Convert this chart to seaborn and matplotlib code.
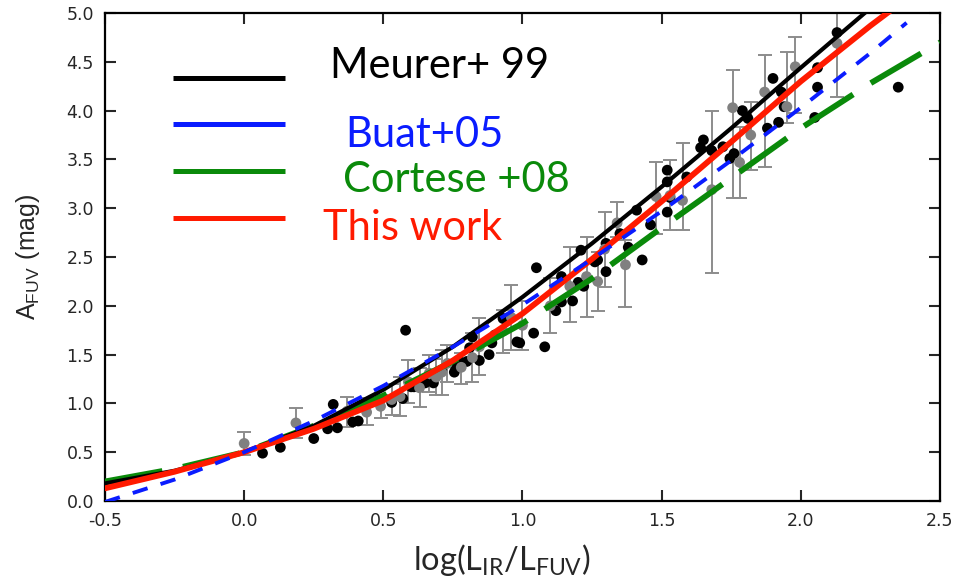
import matplotlib
matplotlib.use("Agg")
import matplotlib.pyplot as plt
import seaborn as sns
import pandas as pd

# curves
x_grid = [-0.5, -0.25, 0.0, 0.25, 0.5, 0.75, 1.0, 1.25, 1.5, 1.75, 2.0, 2.25]
meurer = [0.18, 0.31, 0.50, 0.77, 1.14, 1.58, 2.09, 2.64, 3.22, 3.82, 4.44, 5.05]
buat_x = [-0.5, -0.25, 0.0, 0.25, 0.5, 0.75, 1.0, 1.25, 1.5, 1.75, 2.0, 2.25, 2.38]
buat = [-0.01, 0.22, 0.50, 0.82, 1.18, 1.58, 2.01, 2.48, 2.97, 3.49, 4.03, 4.59, 4.90]
cortese_x = [-0.5, -0.25, 0.0, 0.25, 0.5, 0.75, 1.0, 1.25, 1.5, 1.75, 2.0, 2.25, 2.5]
cortese = [0.20, 0.33, 0.50, 0.77, 1.08, 1.43, 1.82, 2.28, 2.80, 3.31, 3.82, 4.28, 4.70]
this_x = [-0.5, -0.25, 0.0, 0.25, 0.5, 0.75, 1.0, 1.25, 1.5, 1.75, 2.0, 2.25, 2.32]
this_work = [0.13, 0.30, 0.50, 0.74, 1.03, 1.44, 1.92, 2.48, 3.07, 3.68, 4.30, 4.87, 5.02]

# galaxies without error bars (black)
blk_x = [0.066, 0.13, 0.25, 0.30, 0.335, 0.32, 0.39, 0.41, 0.53, 0.57, 0.58, 0.60, 0.61,
         0.65, 0.68, 0.71, 0.755, 0.76, 0.77, 0.80, 0.81, 0.82, 0.845, 0.88, 0.89, 0.90,
         0.93, 0.98, 0.99, 1.04, 1.05, 1.08, 1.12, 1.14, 1.14, 1.18, 1.20, 1.21, 1.22,
         1.26, 1.27, 1.30, 1.30, 1.35, 1.38, 1.41, 1.43, 1.46, 1.52, 1.52, 1.52, 1.53,
         1.59, 1.64, 1.65, 1.68, 1.72, 1.745, 1.76, 1.79, 1.81, 1.88, 1.90, 1.92, 1.93,
         1.94, 2.05, 2.06, 2.06, 2.13, 2.35]
blk_y = [0.49, 0.55, 0.64, 0.74, 0.75, 0.99, 0.81, 0.82, 1.01, 1.05, 1.75, 1.17, 1.17,
         1.21, 1.21, 1.34, 1.32, 1.37, 1.44, 1.43, 1.57, 1.68, 1.44, 1.50, 1.62, 1.70,
         1.87, 1.63, 1.62, 1.72, 2.39, 1.58, 1.95, 2.30, 2.04, 2.05, 2.24, 2.57, 2.20,
         2.45, 2.47, 2.35, 2.64, 2.74, 2.60, 2.98, 2.47, 2.83, 3.27, 2.96, 3.39, 3.11,
         3.32, 3.62, 3.70, 3.59, 3.63, 3.51, 3.56, 4.00, 3.92, 3.82, 4.33, 3.88, 4.19,
         4.04, 3.93, 4.24, 4.44, 4.80, 4.24]

# galaxies with error bars (grey): value, lower end, upper end
gry_x = [0.00, 0.186, 0.37, 0.44, 0.49, 0.53, 0.56, 0.59, 0.63, 0.665, 0.69, 0.71, 0.73,
         0.78, 0.82, 0.845, 0.93, 0.96, 1.00, 1.10, 1.17, 1.23, 1.27, 1.295, 1.34, 1.37,
         1.48, 1.53, 1.575, 1.68, 1.755, 1.78, 1.82, 1.87, 1.95, 1.98, 2.13]
gry_y = [0.59, 0.80, 0.92, 0.91, 0.97, 1.04, 1.07, 1.22, 1.16, 1.31, 1.27, 1.32, 1.41,
         1.37, 1.47, 1.58, 1.74, 1.88, 1.80, 2.00, 2.20, 2.30, 2.25, 2.58, 2.85, 2.42,
         3.12, 3.13, 3.08, 3.19, 4.03, 3.47, 3.75, 4.19, 4.04, 4.45, 4.69]
gry_lo = [0.47, 0.65, 0.76, 0.78, 0.85, 0.88, 0.87, 1.00, 0.96, 1.12, 1.09, 1.09, 1.22,
          1.20, 1.22, 1.29, 1.52, 1.55, 1.55, 1.72, 1.83, 1.89, 1.95, 2.19, 2.70, 1.99,
          2.74, 2.78, 2.78, 2.34, 3.10, 3.10, 3.39, 3.42, 3.87, 3.98, 4.14]
gry_hi = [0.71, 0.95, 1.07, 1.06, 1.09, 1.20, 1.27, 1.44, 1.36, 1.50, 1.45, 1.55, 1.60,
          1.52, 1.72, 1.88, 1.96, 2.21, 2.05, 2.29, 2.60, 2.70, 2.55, 2.96, 3.06, 2.67,
          3.47, 3.49, 3.67, 4.00, 4.42, 3.83, 4.09, 4.57, 4.60, 4.75, 5.30]

labels = ["Meurer+ 99", "Buat+05", "Cortese +08", "This work"]
colors = ["black", "#0a1cff", "#0a8a0a", "#ff1a00"]

sns.set_style("ticks")
plt.rcParams["font.family"] = ["Liberation Sans", "DejaVu Sans"]

fig = plt.figure(figsize=(9.58, 5.79), dpi=100)
ax = fig.add_axes([0.1096, 0.1347, 0.8716, 0.8428])

ax.errorbar(gry_x, gry_y,
            yerr=[[y - l for y, l in zip(gry_y, gry_lo)], [h - y for y, h in zip(gry_y, gry_hi)]],
            fmt="none", ecolor="#8c8c8c", elinewidth=1.4, capsize=5, capthick=1.4, zorder=1)
sns.scatterplot(x=blk_x, y=blk_y, color="black", s=60, edgecolor="none", ax=ax, zorder=2)
sns.scatterplot(x=gry_x, y=gry_y, color="#808080", s=60, edgecolor="none", ax=ax, zorder=2)

sns.lineplot(x=cortese_x, y=cortese, color=colors[2], lw=4.2, ax=ax, zorder=3).lines[-1].set_dashes([10, 3.6])
sns.lineplot(x=x_grid, y=meurer, color=colors[0], lw=3.0, ax=ax, zorder=4)
sns.lineplot(x=this_x, y=this_work, color=colors[3], lw=4.2, ax=ax, zorder=5)
sns.lineplot(x=buat_x, y=buat, color=colors[1], lw=2.8, ax=ax, zorder=6).lines[-1].set_dashes([4, 3.5])

ax.set_xlim(-0.5, 2.5)
ax.set_ylim(0, 5)
ax.set_xticks([-0.5, 0.0, 0.5, 1.0, 1.5, 2.0, 2.5])
ax.set_yticks([0.0, 0.5, 1.0, 1.5, 2.0, 2.5, 3.0, 3.5, 4.0, 4.5, 5.0])
ax.set_xticklabels(["-0.5", "0.0", "0.5", "1.0", "1.5", "2.0", "2.5"])
ax.set_yticklabels(["0.0", "0.5", "1.0", "1.5", "2.0", "2.5", "3.0", "3.5", "4.0", "4.5", "5.0"])
ax.tick_params(direction="in", length=8, width=1.5, labelsize=12.5, top=True, right=True,
               labeltop=False, labelright=False, pad=8)
for lab in ax.get_xticklabels() + ax.get_yticklabels():
    lab.set_family("DejaVu Sans")
for sp in ax.spines.values():
    sp.set_linewidth(1.6)
    sp.set_color("black")

ax.set_xlabel(r"$\mathregular{log(L_{IR}/L_{FUV})}$", fontsize=23.5, family="Lato")
ax.xaxis.set_label_coords(0.475, -0.085)
ax.xaxis.label.set_va("top")
ax.set_ylabel(r"$\mathregular{A_{FUV}\ (mag)}$", fontsize=18, family="Liberation Sans")
ax.yaxis.set_label_coords(-0.075, 0.5)

# hand-drawn legend
leg_y = [0.867, 0.7725, 0.676, 0.58]
txt_x = [0.2695, 0.2874, 0.285, 0.261]
txt_y = [0.8668, 0.7254, 0.633, 0.535]
for lab, c, ly, tx, ty in zip(labels, colors, leg_y, txt_x, txt_y):
    ax.plot([0.0814, 0.2156], [ly, ly], color=c, lw=3.6, transform=ax.transAxes,
            solid_capstyle="butt", zorder=7)
    ax.text(tx, ty, lab, color=c, fontsize=30, family="Lato", va="baseline",
            transform=ax.transAxes, zorder=7)

fig.savefig("out.png", dpi=100)
